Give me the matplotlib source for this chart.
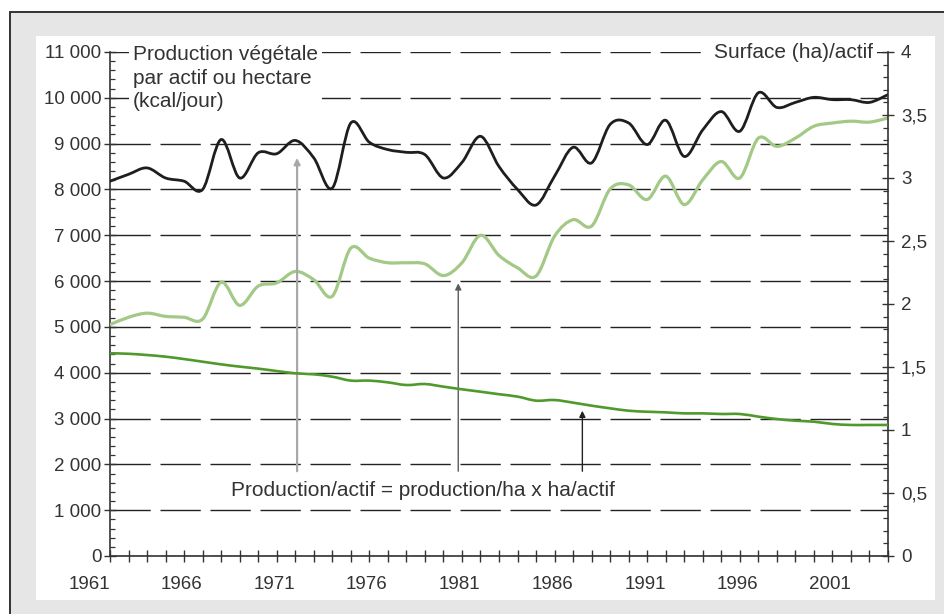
import matplotlib
matplotlib.use("Agg")
import matplotlib.pyplot as plt
from matplotlib.path import Path
from matplotlib.patches import PathPatch, Rectangle
from matplotlib.ticker import MultipleLocator
import numpy as np

plt.rcParams["font.family"] = ["Liberation Sans", "DejaVu Sans"]

# ---------------- data ----------------
years = list(range(1961, 2004))

# Production végétale par actif (kcal/jour) - left axis
prod_actif = [8180, 8330, 8470, 8250, 8180, 8000, 9090, 8250, 8800, 8780,
              9070, 8690, 8030, 9450, 9030, 8870, 8810, 8760, 8250, 8590,
              9160, 8500, 8000, 7660, 8290, 8920, 8580, 9420, 9450, 8980,
              9510, 8720, 9300, 9700, 9270, 10110, 9790, 9900, 10010, 9960,
              9960, 9900, 10070]

# Production végétale par hectare (kcal/jour) - left axis
prod_ha = [5050, 5210, 5300, 5230, 5210, 5170, 5975, 5470, 5890, 5960,
           6210, 6030, 5670, 6720, 6500, 6400, 6400, 6375, 6120, 6400,
           7000, 6560, 6290, 6110, 6980, 7340, 7200, 8010, 8100, 7780,
           8290, 7670, 8210, 8610, 8250, 9120, 8940, 9120, 9380, 9450,
           9490, 9470, 9560]

# Surface (ha)/actif - right axis
ha_actif = [1.609, 1.605, 1.595, 1.582, 1.563, 1.542, 1.521, 1.503, 1.487, 1.468,
            1.450, 1.442, 1.423, 1.392, 1.392, 1.378, 1.357, 1.365, 1.344, 1.323,
            1.304, 1.284, 1.265, 1.233, 1.238, 1.217, 1.193, 1.172, 1.153, 1.145,
            1.140, 1.132, 1.132, 1.127, 1.127, 1.106, 1.087, 1.074, 1.066, 1.048,
            1.040, 1.040, 1.040]

left_ticks = list(range(0, 11001, 1000))
right_ticks = [0, 0.5, 1, 1.5, 2, 2.5, 3, 3.5, 4]
right_labels = ["0", "0,5", "1", "1,5", "2", "2,5", "3", "3,5", "4"]
year_labels = [str(y) if (y - 1961) % 5 == 0 else "" for y in years]

left_title = "Production végétale\npar actif ou hectare\n(kcal/jour)"
right_title = "Surface (ha)/actif"
formula = "Production/actif = production/ha x ha/actif"

# arrows: (year, tip value on left axis)
arrow_years = [1971.1, 1979.8, 1986.5]
arrow_tips = [8690, 5950, 3170]
arrow_base = 1850

# ---------------- figure ----------------
W, H = 945, 614
fig = plt.figure(figsize=(W / 100, H / 100), dpi=100)
fig.patch.set_facecolor("white")

fig.patches.append(Rectangle((10 / W, -0.1), 1.2, (1 - 12 / H) + 0.1,
                             transform=fig.transFigure, facecolor="#e6e6e6",
                             edgecolor="#333333", lw=1.4, zorder=-3))
fig.patches.append(Rectangle((36 / W, 1 - 600 / H), (935 - 36) / W, (600 - 36) / H,
                             transform=fig.transFigure, facecolor="white",
                             edgecolor="none", zorder=-2))

ax = fig.add_axes([110 / W, 1 - 556 / H, (888 - 110) / W, (556 - 52) / H])
ax.patch.set_visible(False)
ax2 = ax.twinx()
ax2.patch.set_visible(False)

ax.set_xlim(1961, 2003)
ax.set_ylim(0, 11000)
ax2.set_ylim(0, 4)

def smooth_patch(axis, x, y, **kw):
    x = np.asarray(x, float)
    y = np.asarray(y, float)
    n = len(x)
    verts = [(x[0], y[0])]
    codes = [Path.MOVETO]
    for i in range(n - 1):
        i0 = max(i - 1, 0)
        i3 = min(i + 2, n - 1)
        c1 = (x[i] + (x[i + 1] - x[i0]) / 6, y[i] + (y[i + 1] - y[i0]) / 6)
        c2 = (x[i + 1] - (x[i3] - x[i]) / 6, y[i + 1] - (y[i3] - y[i]) / 6)
        verts += [c1, c2, (x[i + 1], y[i + 1])]
        codes += [Path.CURVE4] * 3
    p = PathPatch(Path(verts, codes), fill=False, capstyle="round",
                  joinstyle="round", **kw)
    axis.add_patch(p)
    return p

smooth_patch(ax, years, prod_ha, edgecolor="#a3c986", lw=2.3, zorder=3)
smooth_patch(ax, years, prod_actif, edgecolor="#1e1e1e", lw=2.0, zorder=4)
smooth_patch(ax2, years, ha_actif, edgecolor="#4f9a2c", lw=1.9, zorder=3)

# grid
ax.set_axisbelow(True)
ax.grid(axis="y", which="major", color="#222222", lw=1.0,
        linestyle=(0, (29, 7)))
ax.grid(axis="x", visible=False)

# ticks
tc = "#333333"
ax.set_xticks(years, labels=year_labels, ha="right")
ax.set_yticks(left_ticks, labels=[f"{v:,}".replace(",", " ") for v in left_ticks])
ax.yaxis.set_minor_locator(MultipleLocator(200))
ax.tick_params(axis="both", which="major", direction="inout", length=8.5,
               width=1.0, color=tc, labelcolor=tc, labelsize=13.5)
ax.tick_params(axis="y", which="major", pad=2)
ax.tick_params(axis="x", which="major", pad=10)
ax.tick_params(axis="y", which="minor", direction="in", length=3.5,
               width=0.9, color=tc)

ax2.set_yticks(right_ticks, labels=right_labels)
ax2.yaxis.set_minor_locator(MultipleLocator(0.1))
ax2.tick_params(axis="y", which="major", direction="inout", length=8.5,
                width=1.0, color=tc, labelcolor=tc, labelsize=13.5, pad=5)
ax2.tick_params(axis="y", which="minor", direction="in", length=3.5,
                width=0.9, color=tc)

for s in ["top", "right"]:
    ax.spines[s].set_visible(False)
for s in ["top", "left", "bottom"]:
    ax2.spines[s].set_visible(False)
for a, s in [(ax, "left"), (ax, "bottom"), (ax2, "right")]:
    a.spines[s].set_color(tc)
    a.spines[s].set_linewidth(1.2)

# titles
ax.text(1962.25, 11150, left_title, ha="left", va="top", fontsize=15,
        color="#333333", linespacing=1.3, zorder=6,
        bbox=dict(facecolor="white", edgecolor="none", pad=3))
ax.text(2002.2, 11000, right_title, ha="right", va="center", fontsize=15,
        color="#333333", zorder=6,
        bbox=dict(facecolor="white", edgecolor="none", pad=3))

# arrows
arrow_colors = ["#a8a8a8", "#5a5a5a", "#222222"]
arrow_lws = [1.6, 1.0, 1.0]
for xa, yt, c, lw in zip(arrow_years, arrow_tips, arrow_colors, arrow_lws):
    ax.annotate("", xy=(xa, yt), xytext=(xa, arrow_base),
                arrowprops=dict(arrowstyle="-|>", color=c, lw=lw,
                                mutation_scale=9, shrinkA=0, shrinkB=0),
                zorder=5)

ax.text(1977.9, 1440, formula, ha="center", va="center", fontsize=15,
        color="#333333", zorder=6)

fig.savefig("out.png", dpi=100)
